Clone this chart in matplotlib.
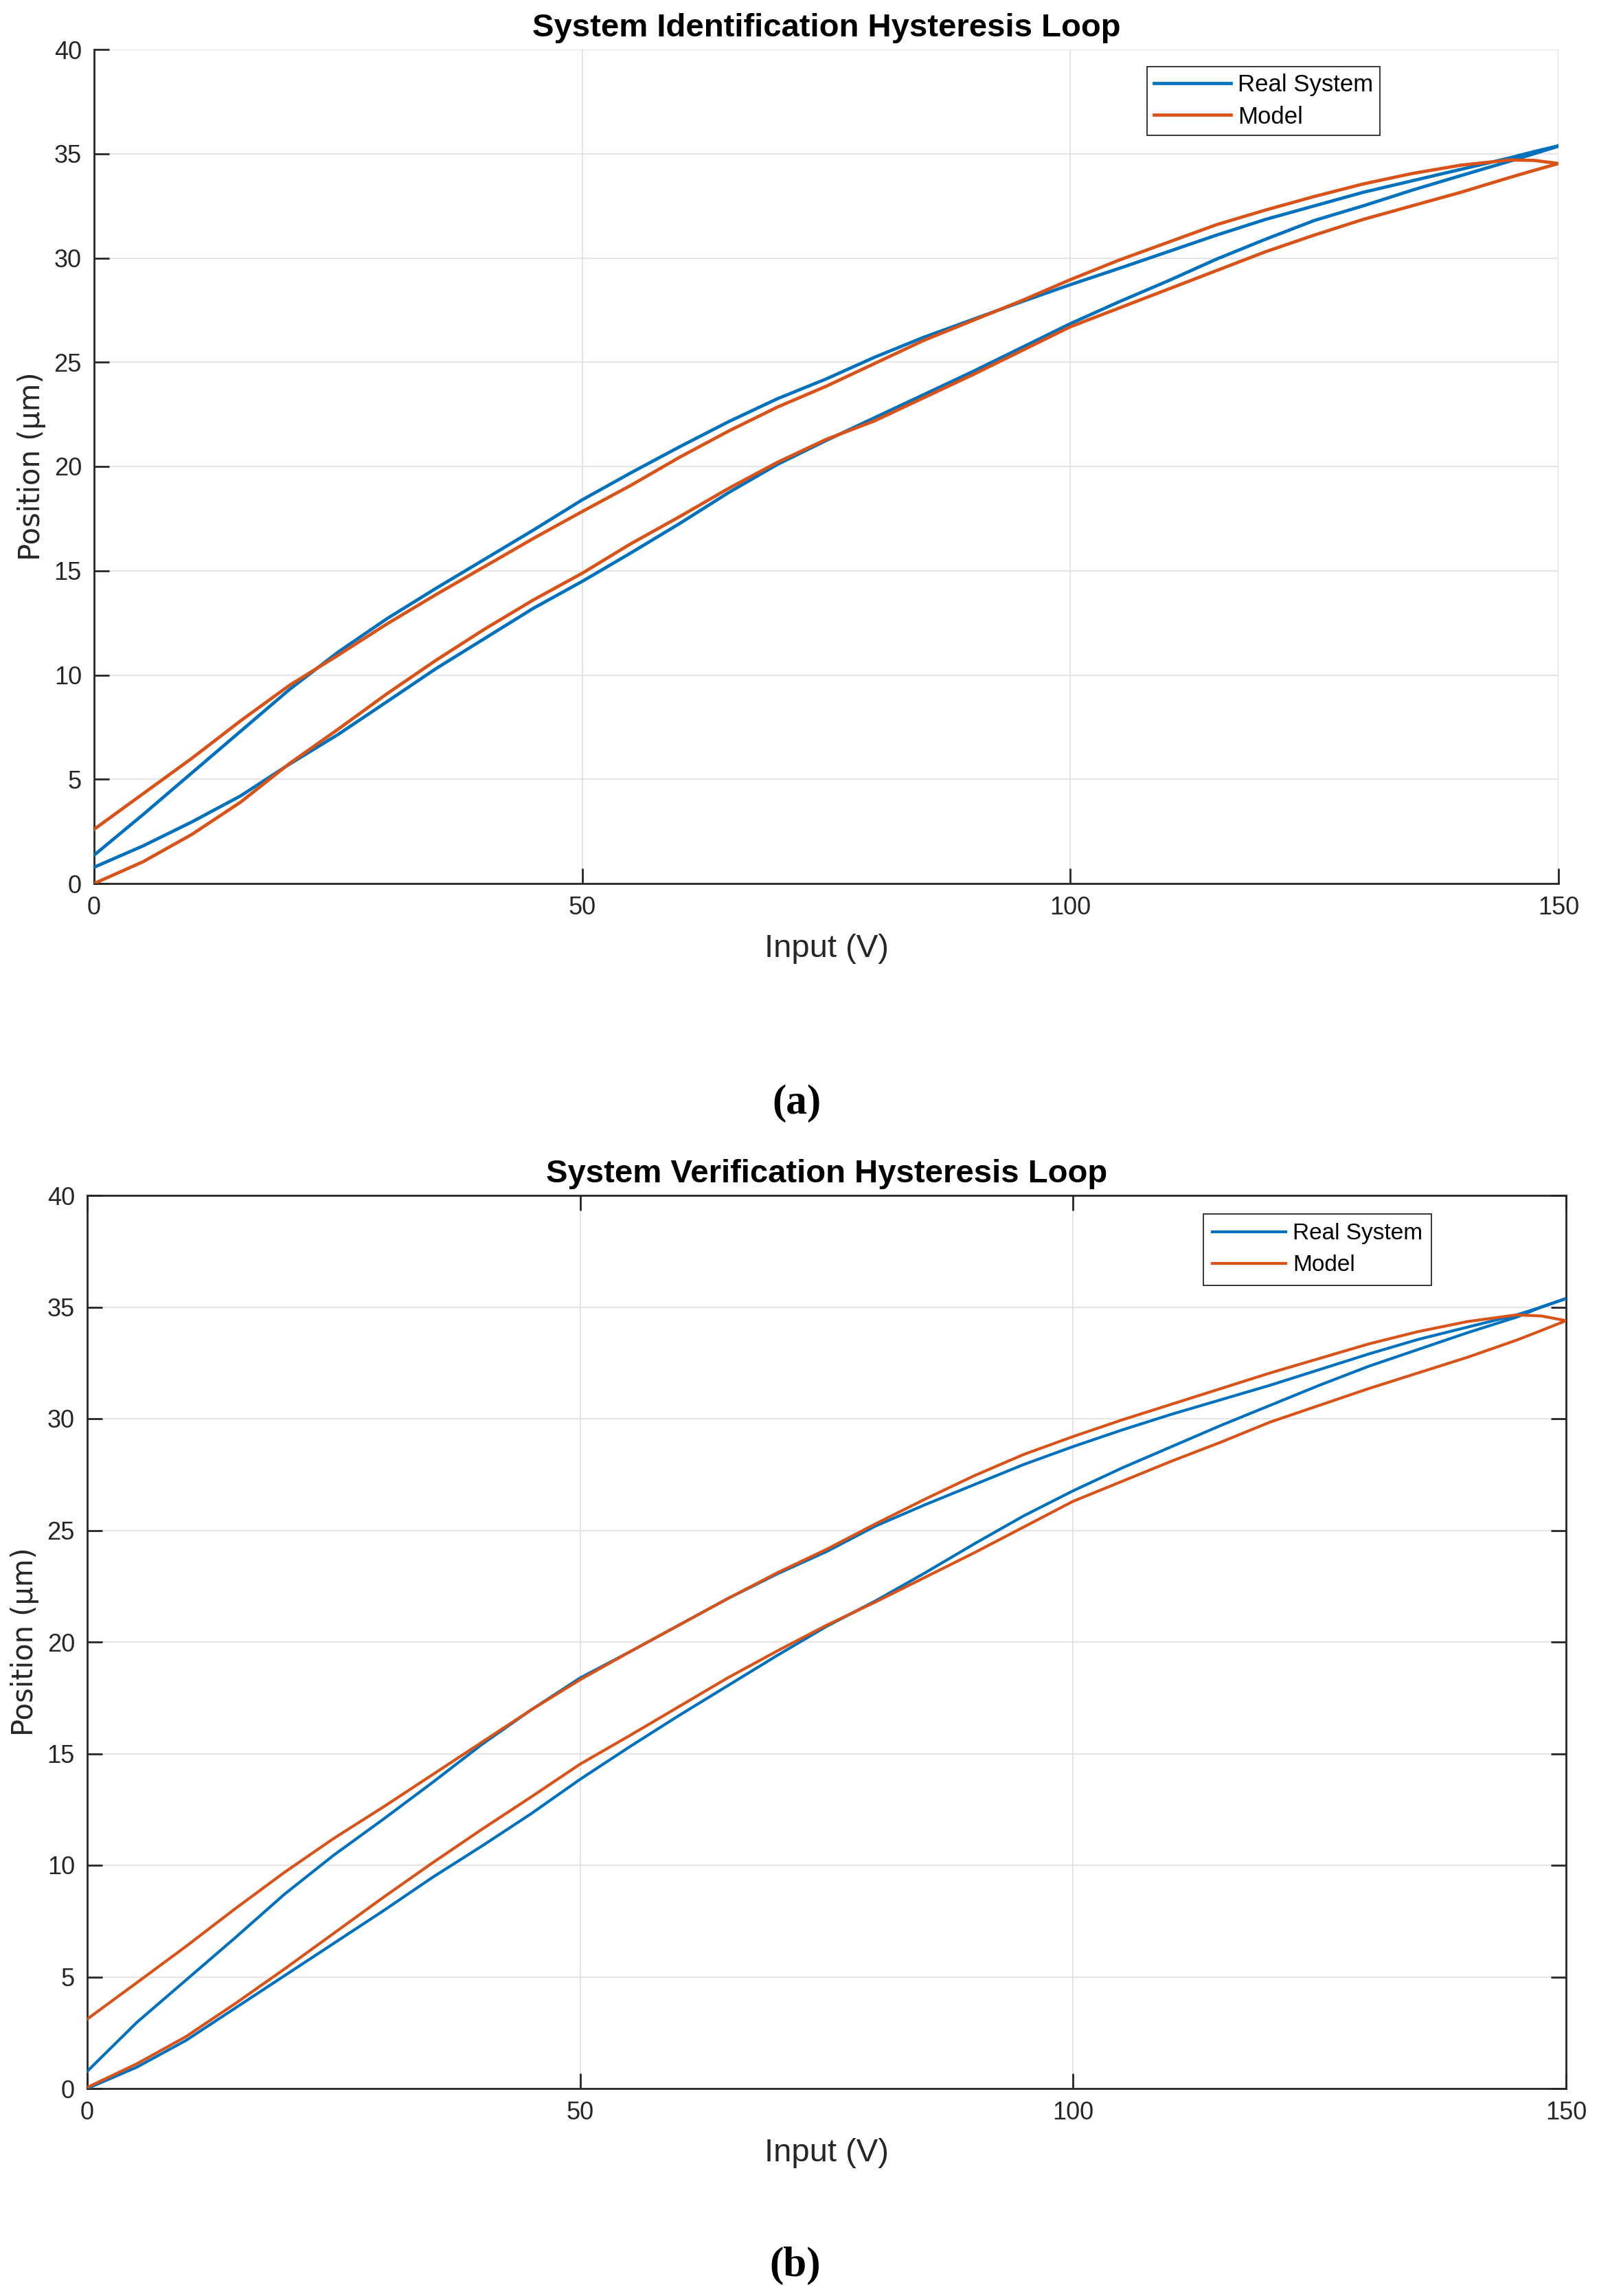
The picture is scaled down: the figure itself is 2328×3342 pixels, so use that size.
import matplotlib
matplotlib.use("Agg")
import matplotlib.pyplot as plt

# ---------------- data ----------------
x_pts = [0, 5, 10, 15, 20, 25, 30, 35, 40, 45, 50, 55, 60, 65, 70, 75, 80, 85,
         90, 95, 100, 105, 110, 115, 120, 125, 130, 135, 140, 145, 147.5, 150]

# (a) System identification
id_real_lower = [0.78, 1.8, 2.95, 4.2, 5.72, 7.15, 8.72, 10.3, 11.75, 13.2, 14.49,
                 15.86, 17.27, 18.75, 20.1, 21.25, 22.35, 23.45, 24.55, 25.7, 26.85,
                 27.9, 28.9, 29.95, 30.9, 31.8, 32.5, 33.25, 33.95, 34.64, 35.0, 35.36]
id_real_upper = [1.36, 3.3, 5.3, 7.3, 9.3, 11.1, 12.7, 14.15, 15.55, 16.95, 18.4,
                 19.7, 20.95, 22.15, 23.25, 24.2, 25.25, 26.2, 27.05, 27.9, 28.72,
                 29.5, 30.3, 31.1, 31.85, 32.5, 33.15, 33.7, 34.25, 34.8, 35.1, 35.38]
id_model_lower = [0.0, 1.04, 2.35, 3.9, 5.75, 7.4, 9.1, 10.7, 12.2, 13.6, 14.88,
                  16.3, 17.6, 18.95, 20.2, 21.3, 22.2, 23.3, 24.4, 25.55, 26.7,
                  27.6, 28.5, 29.4, 30.3, 31.1, 31.85, 32.5, 33.15, 33.86, 34.2, 34.53]
id_model_upper = [2.6, 4.3, 6.0, 7.8, 9.5, 10.95, 12.45, 13.85, 15.2, 16.55, 17.84,
                  19.1, 20.45, 21.7, 22.85, 23.85, 24.95, 26.05, 27.0, 27.95, 28.96,
                  29.9, 30.75, 31.6, 32.3, 32.95, 33.55, 34.05, 34.45, 34.7, 34.68, 34.53]

# (b) System verification
vf_real_lower = [0.0, 0.95, 2.15, 3.6, 5.05, 6.5, 7.95, 9.45, 10.85, 12.3, 13.85,
                 15.3, 16.7, 18.05, 19.4, 20.7, 21.85, 23.1, 24.4, 25.65, 26.77,
                 27.8, 28.75, 29.7, 30.6, 31.5, 32.35, 33.1, 33.85, 34.55, 35.0, 35.38]
vf_real_upper = [0.77, 2.95, 4.85, 6.75, 8.7, 10.45, 12.05, 13.7, 15.4, 16.95, 18.39,
                 19.55, 20.75, 21.95, 23.05, 24.05, 25.2, 26.15, 27.05, 27.95, 28.75,
                 29.5, 30.2, 30.85, 31.5, 32.2, 32.9, 33.55, 34.1, 34.65, 35.0, 35.38]
vf_model_lower = [0.05, 1.1, 2.32, 3.8, 5.35, 6.95, 8.55, 10.1, 11.6, 13.05, 14.53,
                  15.8, 17.1, 18.4, 19.6, 20.75, 21.8, 22.9, 24.0, 25.15, 26.3,
                  27.2, 28.1, 28.95, 29.85, 30.6, 31.35, 32.05, 32.75, 33.52, 33.95, 34.39]
vf_model_upper = [3.11, 4.73, 6.36, 8.05, 9.68, 11.2, 12.6, 14.05, 15.5, 16.95, 18.31,
                  19.55, 20.75, 21.95, 23.1, 24.15, 25.3, 26.4, 27.45, 28.4, 29.2,
                  29.95, 30.65, 31.35, 32.05, 32.7, 33.35, 33.9, 34.35, 34.65, 34.6, 34.39]

x_ticks = [0, 50, 100, 150]
y_ticks = [0, 5, 10, 15, 20, 25, 30, 35, 40]
titles = ["System Identification Hysteresis Loop", "System Verification Hysteresis Loop"]
captions = ["(a)", "(b)"]
legend_labels = ["Real System", "Model"]

# ---------------- style ----------------
BLUE = "#0072BD"
ORANGE = "#D95319"
AXC = "#262626"
GRIDC = "#dedede"
SANS = ["Liberation Sans", "DejaVu Sans"]

plt.rcParams["font.family"] = SANS

fig = plt.figure(figsize=(23.28, 33.42), dpi=100)
ax_a = fig.add_axes([137/2328, 1-1286/3342, 2132/2328, 1214/3342])
ax_b = fig.add_axes([127/2328, 1-3040/3342, 2153/2328, 1300/3342])


def loop(lower, upper):
    xs = list(x_pts) + list(x_pts[::-1])
    ys = list(lower) + list(upper[::-1])
    return xs, ys


def style(ax, title, boxed, leg_anchor, leg_fs, bpad, lspace):
    ax.set_xlim(0, 150)
    ax.set_ylim(0, 40)
    ax.set_xticks(x_ticks)
    ax.set_yticks(y_ticks)
    ax.grid(True, color=GRIDC, linewidth=1.1, zorder=0)
    ax.set_axisbelow(True)
    for s in ax.spines.values():
        s.set_color(AXC)
        s.set_linewidth(2.0)
    if not boxed:
        ax.spines["top"].set_visible(False)
        ax.spines["right"].set_visible(False)
        ax.tick_params(top=False, right=False)
    else:
        ax.tick_params(top=True, right=True)
    ax.tick_params(direction="in", length=16, width=2.0, color=AXC,
                   labelsize=26, labelcolor=AXC, pad=13)
    ax.set_xlabel("Input (V)", fontsize=34, color=AXC, labelpad=14)
    ax.set_ylabel("Position (\u03bcm)", fontsize=30, color=AXC, labelpad=8,
                  family=["DejaVu Sans"])
    ax.set_title(title, fontsize=34, fontweight="bold", color="black", pad=14)
    leg = ax.legend(loc="upper left", bbox_to_anchor=leg_anchor, fontsize=leg_fs,
                    frameon=True, fancybox=False, edgecolor=AXC, framealpha=1,
                    handlelength=3.2, handletextpad=0.3, borderpad=bpad,
                    labelspacing=lspace, borderaxespad=0)
    leg.get_frame().set_linewidth(1.3)
    for t in leg.get_texts():
        t.set_color("black")


xs, ys = loop(id_real_lower, id_real_upper)
ax_a.plot(xs, ys, color=BLUE, lw=3.4, label=legend_labels[0], zorder=3)
xs, ys = loop(id_model_lower, id_model_upper)
ax_a.plot(xs, ys, color=ORANGE, lw=3.4, label=legend_labels[1], zorder=3)
style(ax_a, titles[0], False, ((1670-137)/2132, (1286-97)/1214), 25, 0.3, 0.38)

xs, ys = loop(vf_real_lower, vf_real_upper)
ax_b.plot(xs, ys, color=BLUE, lw=3.0, label=legend_labels[0], zorder=3)
xs, ys = loop(vf_model_lower, vf_model_upper)
ax_b.plot(xs, ys, color=ORANGE, lw=3.0, label=legend_labels[1], zorder=3)
style(ax_b, titles[1], True, ((1752-127)/2153, (3040-1767)/1300), 24, 0.4, 0.45)

fig.text(1160/2328, 1-1606/3342, captions[0], ha="center", va="center",
         fontsize=44, fontweight="bold", family=["Liberation Serif", "DejaVu Serif"])
fig.text(1158/2328, 1-3298/3342, captions[1], ha="center", va="center",
         fontsize=44, fontweight="bold", family=["Liberation Serif", "DejaVu Serif"])

fig.savefig("out.png", dpi=100, facecolor="white")
